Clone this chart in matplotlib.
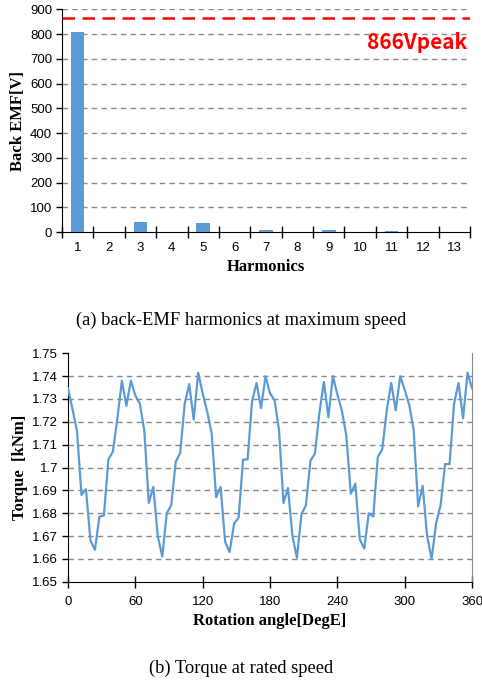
import matplotlib
matplotlib.use("Agg")
import matplotlib.pyplot as plt
import numpy as np

# ---- data ----
harmonics = list(range(1, 14))
back_emf = [808, 2, 42, 2, 37, 2, 10, 2, 9, 2, 6, 2, 2]
emf_limit = 866
emf_limit_label = "866Vpeak"

angle_step = 4
torque = [1.7347, 1.7255, 1.7160, 1.6880, 1.6905, 1.6680, 1.6640, 1.6785, 1.6790, 1.7035,
          1.7070, 1.7215, 1.7380, 1.7270, 1.7380, 1.7315, 1.7280, 1.7160, 1.6845, 1.6915,
          1.6700, 1.6610, 1.6800, 1.6835, 1.7025, 1.7065, 1.7280, 1.7365, 1.7210, 1.7415,
          1.7325, 1.7245, 1.7150, 1.6870, 1.6915, 1.6675, 1.6630, 1.6755, 1.6780, 1.7035,
          1.7035, 1.7290, 1.7370, 1.7260, 1.7400, 1.7325, 1.7295, 1.7165, 1.6845, 1.6910,
          1.6700, 1.6605, 1.6795, 1.6835, 1.7030, 1.7060, 1.7240, 1.7375, 1.7220, 1.7400,
          1.7320, 1.7250, 1.7140, 1.6885, 1.6930, 1.6685, 1.6645, 1.6800, 1.6785, 1.7045,
          1.7080, 1.7250, 1.7370, 1.7250, 1.7400, 1.7340, 1.7275, 1.7165, 1.6830, 1.6920,
          1.6700, 1.6600, 1.6755, 1.6835, 1.7015, 1.7015, 1.7280, 1.7370, 1.7215, 1.7415,
          1.7347]
angles = np.arange(len(torque)) * angle_step

torque_ticks = [1.65, 1.66, 1.67, 1.68, 1.69, 1.70, 1.71, 1.72, 1.73, 1.74, 1.75]
torque_ticklabels = ["1.65", "1.66", "1.67", "1.68", "1.69", "1.7", "1.71", "1.72", "1.73", "1.74", "1.75"]
angle_ticks = [0, 60, 120, 180, 240, 300, 360]
emf_ticks = [0, 100, 200, 300, 400, 500, 600, 700, 800, 900]

caption_a = "(a) back-EMF harmonics at maximum speed"
caption_b = "(b) Torque at rated speed"

blue = "#5B9BD5"
grid_kw = dict(color="#8a8a8a", linestyle=(0, (4, 3)), linewidth=1.0)
tick_font = dict(family="Liberation Sans", size=9.5)
label_font = dict(family="Liberation Serif", size=12, weight="bold")

fig = plt.figure(figsize=(4.82, 6.83), dpi=100)

# ---- top: back-EMF harmonics ----
ax1 = fig.add_axes([0.1286, 0.6603, 0.8465, 0.326])
ax1.bar(harmonics, back_emf, width=0.43, color=blue, zorder=3)
ax1.axhline(emf_limit, color="#ff0000", linestyle=(0, (5, 3)), linewidth=1.8, zorder=4)
ax1.text(13.4, 765, emf_limit_label, color="#ff0000", ha="right", va="center",
         family="Noto Sans CJK KR", fontsize=15, fontweight="bold")
ax1.set_xlim(0.5, 13.5)
ax1.set_ylim(0, 900)
ax1.set_yticks(emf_ticks)
ax1.set_xticks(harmonics)
ax1.set_xticks(np.arange(0.5, 14, 1), minor=True)
ax1.tick_params(axis="x", which="major", length=0, pad=7)
ax1.tick_params(axis="x", which="minor", direction="inout", length=8, width=1)
ax1.tick_params(axis="y", direction="out", length=4, width=1, pad=3)
for lab in ax1.get_xticklabels() + ax1.get_yticklabels():
    lab.set_fontfamily(tick_font["family"]); lab.set_fontsize(tick_font["size"])
for y in emf_ticks[1:]:
    ax1.axhline(y, zorder=1, **grid_kw)
for s in ["top", "right"]:
    ax1.spines[s].set_visible(False)
ax1.set_xlabel("Harmonics", labelpad=4, **label_font)
ax1.set_ylabel("Back EMF[V]", labelpad=3, **label_font)

fig.text(0.5, 1 - 320 / 683, caption_a, ha="center", va="center",
         family="Liberation Serif", fontsize=13.3)

# ---- bottom: torque ----
ax2 = fig.add_axes([0.1411, 0.1483, 0.8382, 0.3344])
ax2.plot(angles, torque, color=blue, linewidth=1.6, zorder=3)
ax2.set_xlim(0, 360)
ax2.set_ylim(1.65, 1.75)
ax2.set_yticks(torque_ticks)
ax2.set_yticklabels(torque_ticklabels)
ax2.set_xticks(angle_ticks)
ax2.tick_params(axis="x", direction="inout", length=8, width=1, pad=6)
ax2.tick_params(axis="y", direction="out", length=4, width=1, pad=3)
for lab in ax2.get_xticklabels() + ax2.get_yticklabels():
    lab.set_fontfamily(tick_font["family"]); lab.set_fontsize(tick_font["size"])
for y in torque_ticks[1:-1]:
    ax2.axhline(y, zorder=1, **grid_kw)
ax2.spines["top"].set_visible(False)
ax2.spines["right"].set_color("#8a8a8a")
ax2.set_xlabel("Rotation angle[DegE]", labelpad=4, **label_font)
ax2.set_ylabel("Torque  [kNm]", labelpad=3, **label_font)

fig.text(0.5, 1 - 668 / 683, caption_b, ha="center", va="center",
         family="Liberation Serif", fontsize=13.3)

fig.savefig("out.png", dpi=100)
